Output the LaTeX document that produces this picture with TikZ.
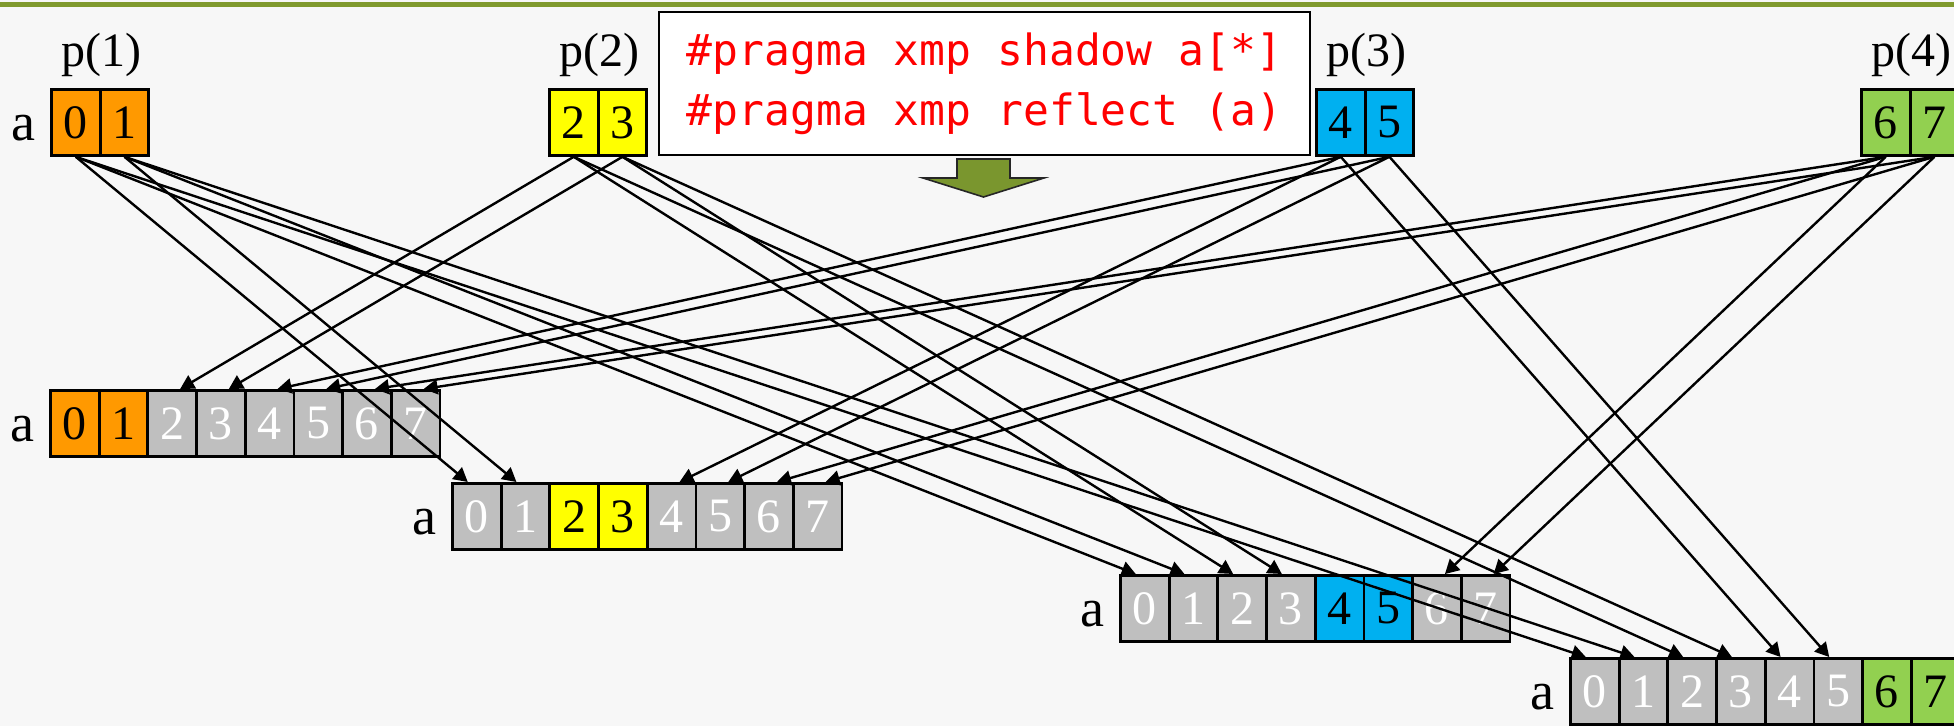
\documentclass[tikz,border=0pt]{standalone}
\usepackage{fontspec}
\setmainfont{Liberation Serif}
\newfontfamily\codefont{DejaVu Sans Mono}
\usetikzlibrary{arrows.meta}
\definecolor{bg}{RGB}{247,247,247}
\definecolor{topgreen}{RGB}{128,154,46}
\definecolor{arrowgreen}{RGB}{122,150,46}
\definecolor{own1}{RGB}{255,153,0}
\definecolor{own2}{RGB}{255,255,0}
\definecolor{own3}{RGB}{0,176,240}
\definecolor{own4}{RGB}{146,208,80}
\definecolor{cellgray}{RGB}{191,191,191}
\definecolor{codered}{RGB}{255,0,0}
\tikzset{
  cell/.style={draw=black, line width=1.4pt, anchor=north west, minimum width=24.35pt,
    minimum height=33pt, inner sep=0pt, font=\fontsize{24}{24}\selectfont},
  alab/.style={anchor=east, inner sep=0pt, font=\fontsize{27}{27}\selectfont},
  plab/.style={inner sep=0pt, font=\fontsize{24}{24}\selectfont},
  codebox/.style={draw=black, line width=1pt, fill=white, minimum width=325.5pt,
    minimum height=71.5pt, align=left, text=codered,
    font=\codefont\fontsize{21.5}{30}\selectfont},
  conn/.style={draw=black, line width=1.2pt, -{Triangle[length=7pt,width=7.5pt]}},
}
\begin{document}
\begin{tikzpicture}[x=0.5pt,y=-0.5pt]
\useasboundingbox (0,0) rectangle (1954,726);
\fill[bg] (0,0) rectangle (1954,726);
\draw[topgreen, line width=2.5pt] (0,5) -- (1954,5);
% top row
\foreach \k/\x in {0/50,1/98.7,2/548,3/596.7,4/1315,5/1363.7,6/1860,7/1908.7}{
  \pgfmathtruncatemacro{\own}{floor(\k/2)+1}
  \node[cell, fill=own\own] (t\k) at (\x,88) {\k};
}
\node[alab] (at) at ([xshift=-7pt,yshift=-3pt]t0.west) {a};
\node[plab] (p1) at ([yshift=16.5pt]t0.north east) {p(1)};
\node[plab] (p2) at ([yshift=16.5pt]t2.north east) {p(2)};
\node[plab] (p3) at ([yshift=16.5pt]t4.north east) {p(3)};
\node[plab] (p4) at ([yshift=16.5pt]t6.north east) {p(4)};
% shadow rows
\foreach \j/\rx/\ry in {1/49/389, 2/451/482, 3/1119/574, 4/1569/657}{
  \foreach \k in {0,...,7}{
    \pgfmathtruncatemacro{\own}{floor(\k/2)+1}
    \ifnum\own=\j
      \node[cell, fill=own\j] (r\j-\k) at (\rx+\k*48.7,\ry) {\k};
    \else
      \node[cell, fill=cellgray, text=white] (r\j-\k) at (\rx+\k*48.7,\ry) {\k};
    \fi
  }
  \node[alab] (a\j) at ([xshift=-7pt,yshift=-3pt]r\j-0.west) {a};
}
% code box
\node[codebox] (code) at (984.5,83.5) {\#pragma xmp shadow a[*]\\\#pragma xmp reflect (a)};
% connectors
\foreach \k in {0,...,7}{
  \pgfmathtruncatemacro{\own}{floor(\k/2)+1}
  \foreach \j in {1,2,3,4}{
    \ifnum\j=\own\else
      \ifnum\j>\own \def\sh{-4.5pt}\else\def\sh{4pt}\fi
      \draw[conn] (t\k.south) -- ([xshift=\sh]r\j-\k.north);
    \fi
  }
}
% green block arrow
\filldraw[fill=arrowgreen, draw=black!85, line width=0.8pt]
  (957,159) -- (1010,159) -- (1010,178) -- (1044,178) -- (983.5,197)
  -- (923,178) -- (957,178) -- cycle;
\end{tikzpicture}
\end{document}
